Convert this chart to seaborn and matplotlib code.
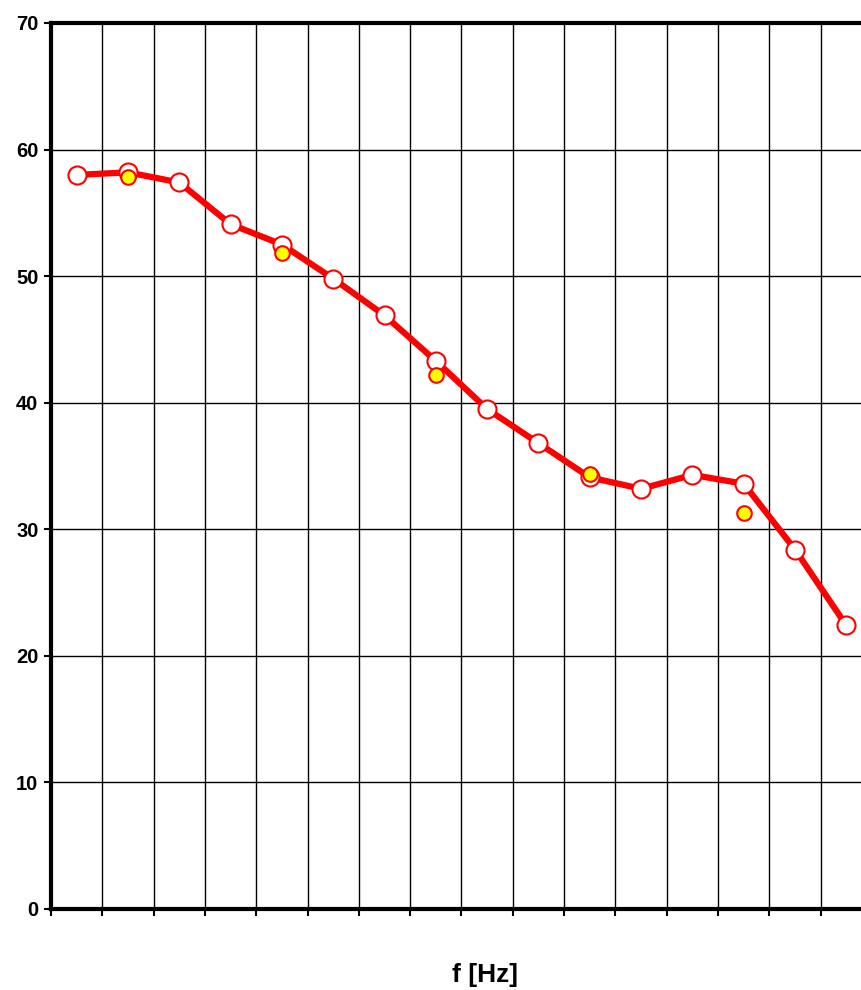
import numpy as np
import pandas as pd
import matplotlib
matplotlib.use('Agg')
import matplotlib.pyplot as plt
import seaborn as sns

# band index (no frequency labels shown on the axis)
bands = list(range(1, 17))
level = [58.0, 58.2, 57.4, 54.1, 52.5, 49.8, 46.9, 43.3, 39.5, 36.8, 34.1, 33.2, 34.3, 33.6, 28.4, 22.4]

# second series, only at some bands
meas_bands = [2, 5, 8, 11, 14]
meas_level = [57.8, 51.8, 42.2, 34.4, 31.3]

sns.set_theme(style='white')
plt.rcParams['font.family'] = ['Liberation Sans', 'DejaVu Sans']

fig = plt.figure(figsize=(8.62, 9.9), dpi=100)
# axes runs slightly past the right edge of the picture, as in the original
ax = fig.add_axes([51/862, 81/990, 821/862, 886/990])

df = pd.DataFrame({'band': bands, 'level': level})
sns.lineplot(data=df, x='band', y='level', ax=ax, color='red', linewidth=4.5,
             marker='o', markersize=13, markerfacecolor='white',
             markeredgecolor='red', markeredgewidth=1.5, zorder=3)

dm = pd.DataFrame({'band': meas_bands, 'level': meas_level})
sns.scatterplot(data=dm, x='band', y='level', ax=ax, color='yellow', s=110,
                edgecolor='red', linewidth=1.5, zorder=4)

ax.set_xlim(0.5, 16.5)
ax.set_ylim(0, 70)
ax.set_yticks(np.arange(0, 71, 10))
ax.set_xticks(np.arange(0.5, 16.6, 1))
ax.set_xticklabels([])
ax.grid(True, axis='both', color='black', linewidth=1)
ax.set_axisbelow(True)

for s in ['left', 'bottom', 'top']:
    ax.spines[s].set_linewidth(3)
    ax.spines[s].set_color('black')
ax.spines['right'].set_visible(False)

ax.tick_params(axis='both', direction='out', length=5, width=1.5, color='black',
               bottom=True, left=True, labelcolor='black')
ax.tick_params(axis='y', pad=4)
for lbl in ax.get_yticklabels():
    lbl.set_fontsize(14.5)
    lbl.set_fontweight('bold')

ax.set_xlabel('')
ax.set_ylabel('')
fig.text(485/862, 1 - 975/990, 'f [Hz]', ha='center', va='center',
         fontsize=19, fontweight='bold', color='black')

fig.savefig('out.png', dpi=100)
